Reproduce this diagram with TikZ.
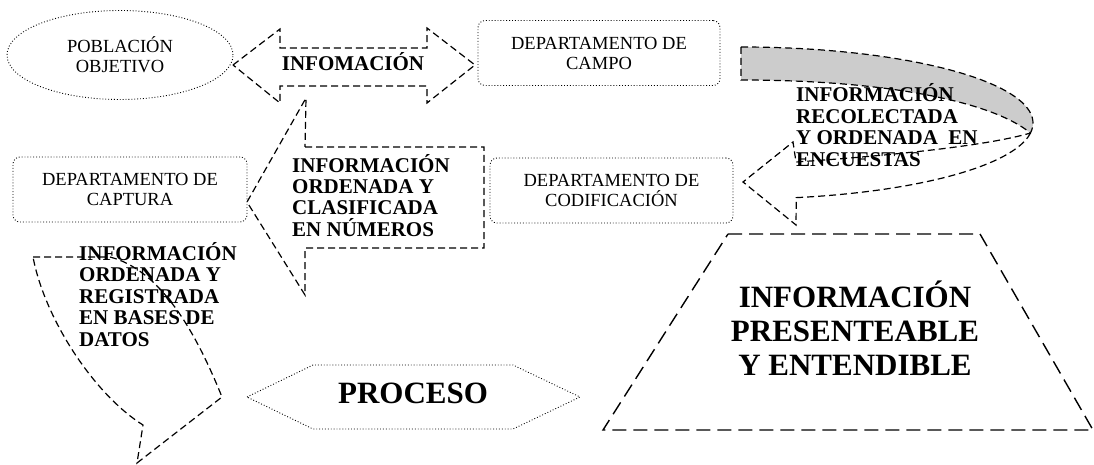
\documentclass[tikz,border=0pt]{standalone}
\usepackage{fontspec}
\setmainfont{Liberation Serif}
\usepackage{tikz}
\usetikzlibrary{arrows.meta, positioning, shapes.geometric}

\begin{document}
\begin{tikzpicture}[
  x=1pt, y=-1pt,
  dept/.style={draw, dotted, line width=0.9pt, rounded corners=7pt, minimum width=242pt, minimum height=65pt, inner sep=0pt, align=center, font=\fontsize{18.5}{20}\selectfont},
  flow/.style={dash pattern=on 7pt off 4pt, line width=1.2pt, line join=miter},
  bigflow/.style={dash pattern=on 14pt off 7pt, line width=1.4pt},
  boldtext/.style={inner sep=0pt, align=left, font=\fontsize{21}{21.5}\selectfont\bfseries},
  bigtext/.style={inner sep=0pt, align=center, font=\fontsize{31}{34}\selectfont\bfseries}
]
\useasboundingbox (0,0) rectangle (1094,465);

\node [ellipse, draw, dotted, line width=0.9pt, minimum width=226pt, minimum height=89pt, inner sep=0pt, align=center, font=\fontsize{18.5}{20}\selectfont] (pob) at (120,55) {POBLACIÓN\\OBJETIVO};
\node [dept] (campo) at (599,53) {DEPARTAMENTO DE\\CAMPO};
\node [dept, minimum width=234pt] (captura) at (130,189.5) {DEPARTAMENTO DE\\CAPTURA};
\node [dept, minimum width=243pt] (codif) at (611.5,190.5) {DEPARTAMENTO DE\\CODIFICACIÓN};

\draw [flow] (233,65) -- (280,29) -- (280,48) -- (427,48) -- (427,28) -- (475,65)
  -- (427,103) -- (427,86) -- (280,86) -- (280,103) -- cycle;
\node [boldtext, anchor=base] (info) at (353,71) {INFOMACIÓN};

\draw [flow] (305,147) -- (484,147) -- (484,248) -- (305,248) -- (305,295)
  -- (247,202) -- (306,98) -- cycle;
\node [boldtext, anchor=base west] (ordenada) at (292,236.5) {INFORMACIÓN\\ORDENADA Y\\CLASIFICADA\\EN NÚMEROS};

\draw [flow, fill=black!20] (741,47) arc[start angle=-90, end angle=7.56, x radius=292, y radius=76]
  .. controls (990,100) and (880,80) .. (741,80) -- cycle;
\draw [flow, fill=white] (1030.5,133) arc[start angle=7.56, end angle=79.1, x radius=292, y radius=76]
  -- (796,225) -- (743,182) -- (793,142) -- (796,162)
  .. controls (900,155) and (990,145) .. (1030.5,133) -- cycle;
\node [boldtext, anchor=base west] (recolectada) at (796,166.5) {INFORMACIÓN\\RECOLECTADA\\Y ORDENADA\ \ EN\\ENCUESTAS};

\draw [flow] (33,257) -- (110,257) .. controls (160,270) and (195,330) .. (222,397)
  -- (137,463) -- (143,425) .. controls (95,395) and (45,320) .. (33,257) -- cycle;
\node [boldtext, anchor=base west] (registrada) at (79,346) {INFORMACIÓN\\ORDENADA Y\\REGISTRADA\\EN BASES DE\\DATOS};

\draw [dotted, line width=0.9pt] (247,397) -- (313,365) -- (513,365) -- (580,397) -- (513,429) -- (313,429) -- cycle;
\node [bigtext, anchor=base] (proceso) at (413,403) {PROCESO};

\draw [bigflow] (728,234) -- (980,234) -- (1093,430) -- (603,430) -- cycle;
\node [bigtext, anchor=base] (presentable) at (855,375) {INFORMACIÓN\\PRESENTEABLE\\Y ENTENDIBLE};
\end{tikzpicture}
\end{document}
